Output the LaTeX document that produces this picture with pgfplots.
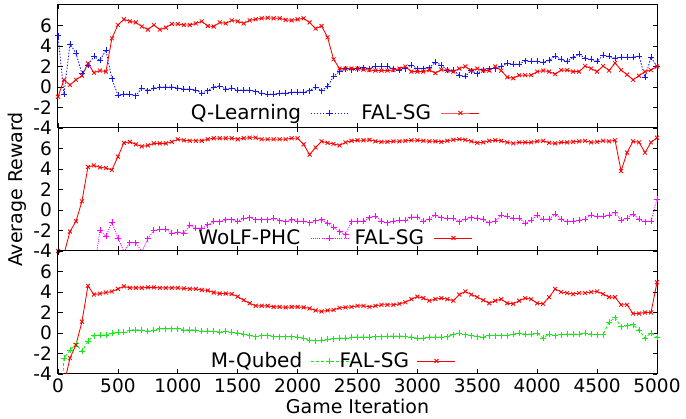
\documentclass[border=0pt]{standalone}
\usepackage{pgfplots}
\usepackage{pgfplotstable}
\pgfplotsset{compat=1.18}
\usepackage{fontspec}
\setmainfont{DejaVu Sans}
\definecolor{qblue}{RGB}{20,20,255}
\definecolor{wmag}{RGB}{255,0,255}
\definecolor{mgreen}{RGB}{20,235,20}
\definecolor{fred}{RGB}{255,0,0}

\pgfplotstableread{
x ql fal
0 5.0 -0.95
50 -0.7 0.7
100 4.2 0.2
150 3.3 0.7
200 1.3 1.1
250 2.1 2.3
300 3.0 1.4
350 2.6 1.6
400 3.6 1.5
450 0.8 4.75
500 -0.8 6.05
550 -0.7 6.6
600 -0.7 6.4
650 -0.85 6.3
700 -0.1 5.9
750 -0.35 5.6
800 -0.1 6.05
850 0 5.6
900 0 5.8
950 0 6.15
1000 -0.1 6.15
1050 -0.2 6.05
1100 -0.2 6.05
1150 -0.3 6.2
1200 -0.6 6.4
1250 -0.35 5.95
1300 0 5.9
1350 0.1 6.3
1400 -0.2 6.2
1450 -0.1 6.5
1500 -0.3 6.4
1550 -0.3 6.2
1600 -0.3 6.5
1650 -0.45 6.6
1700 -0.6 6.7
1750 -0.7 6.75
1800 -0.7 6.7
1850 -0.6 6.7
1900 -0.6 6.55
1950 -0.5 6.5
2000 -0.5 6.6
2050 -0.5 6.7
2100 -0.35 6.3
2150 0 5.7
2200 -0.35 5.95
2250 0.05 4.85
2300 1.05 2.7
2350 1.5 1.8
2400 1.8 1.8
2450 1.7 1.8
2500 1.8 1.8
2550 1.9 1.7
2600 1.8 1.65
2650 2.0 1.6
2700 2.0 1.6
2750 2.0 1.6
2800 1.8 1.65
2850 1.65 1.8
2900 1.8 2.0
2950 2.15 1.5
3000 1.8 1.5
3050 1.8 1.5
3100 1.9 1.65
3150 2.4 1.35
3200 2.15 1.7
3250 1.65 1.6
3300 1.65 1.5
3350 1.15 1.8
3400 1.05 2.0
3450 1.6 1.6
3500 1.3 1.8
3550 1.7 1.6
3600 1.8 1.6
3650 1.8 2.0
3700 2.0 1.6
3750 2.3 0.95
3800 2.25 0.85
3850 2.25 1.15
3900 2.55 1.15
3950 2.5 1.15
4000 2.5 1.5
4050 2.4 1.6
4100 2.6 1.5
4150 3.0 1.25
4200 2.7 1.65
4250 2.5 1.65
4300 2.9 1.5
4350 3.2 1.5
4400 2.8 2.05
4450 2.7 1.8
4500 2.5 1.5
4550 3.1 2.05
4600 3.0 1.6
4650 2.8 2.35
4700 2.9 1.65
4750 2.9 1.2
4800 2.9 0.7
4850 3.0 1.1
4900 0.95 1.5
4950 2.9 1.65
5000 2.0 2.0
}\panelA

\pgfplotstableread{
x wolf fal
0 -6 -4.0
50 -6 -4.3
100 -6 -2.1
150 -6 -1.1
200 -6 0.85
250 -6 4.2
300 -6 4.35
350 -2.0 4.15
400 -2.55 4.1
450 -1.2 3.9
500 -2.75 5.2
550 -4.05 6.55
600 -3.2 6.65
650 -3.2 6.4
700 -4.05 6.2
750 -2.8 6.3
800 -2.0 6.5
850 -1.9 6.5
900 -1.9 6.5
950 -2.25 6.65
1000 -2.15 6.9
1050 -2.25 6.8
1100 -1.5 6.75
1150 -1.75 6.75
1200 -1.8 6.75
1250 -1.45 6.9
1300 -1.1 7.0
1350 -1.15 7.0
1400 -0.95 7.0
1450 -0.95 7.0
1500 -1.1 6.9
1550 -0.8 7.0
1600 -0.75 7.05
1650 -0.95 7.05
1700 -0.95 6.9
1750 -0.95 6.9
1800 -0.8 6.9
1850 -1.05 6.9
1900 -1.15 6.9
1950 -0.95 7.0
2000 -1.1 7.0
2050 -1.1 6.4
2100 -1.25 5.4
2150 -1.05 6.1
2200 -0.95 6.7
2250 -1.3 6.55
2300 -1.7 6.45
2350 -2.1 6.3
2400 -2.4 6.6
2450 -1.15 6.75
2500 -1.1 6.8
2550 -1.1 6.8
2600 -0.75 6.85
2650 -0.6 6.7
2700 -1.1 6.65
2750 -1.25 6.65
2800 -1.1 6.7
2850 -1.0 6.7
2900 -1.0 6.75
2950 -0.7 6.8
3000 -0.7 6.8
3050 -1.1 6.75
3100 -0.9 6.7
3150 -0.5 6.7
3200 -0.75 6.65
3250 -0.8 6.75
3300 -0.8 6.85
3350 -1.15 6.9
3400 -0.9 6.85
3450 -0.75 6.7
3500 -0.8 6.55
3550 -0.9 6.6
3600 -1.25 6.75
3650 -1.1 6.8
3700 -0.5 6.75
3750 -0.6 6.6
3800 -0.8 6.5
3850 -0.8 6.6
3900 -1.3 6.6
3950 -1.0 6.6
4000 -0.5 6.7
4050 -0.9 6.75
4100 -0.9 6.55
4150 -0.4 6.5
4200 -0.9 6.6
4250 -1.15 6.6
4300 -1.1 6.65
4350 -1.0 6.7
4400 -0.9 6.75
4450 -0.5 6.6
4500 -0.6 6.65
4550 -0.6 6.75
4600 -0.5 6.7
4650 -0.25 6.8
4700 -1.0 3.8
4750 -0.8 5.6
4800 -0.4 6.7
4850 -0.9 6.6
4900 -1.15 5.6
4950 -1.1 6.6
5000 1.05 7.05
}\panelB

\pgfplotstableread{
x mq fal
0 -12 -7
50 -2.45 -5
100 -1.7 -2.45
150 -1.05 -1.15
200 -1.8 1.1
250 -0.8 4.6
300 -0.25 3.75
350 -0.2 3.85
400 -0.2 3.95
450 0 4.05
500 0.05 4.3
550 0.05 4.55
600 0.3 4.4
650 0.3 4.4
700 0.3 4.4
750 0.2 4.45
800 0.3 4.45
850 0.4 4.4
900 0.4 4.4
950 0.4 4.4
1000 0.4 4.4
1050 0.3 4.35
1100 0.3 4.3
1150 0.3 4.3
1200 0.2 4.2
1250 0.2 4.15
1300 0.15 3.95
1350 0.1 3.85
1400 0.15 3.85
1450 0.05 3.8
1500 0 3.55
1550 -0.1 3.2
1600 -0.25 2.9
1650 -0.35 2.65
1700 -0.25 2.65
1750 -0.25 2.65
1800 -0.35 2.55
1850 -0.35 2.55
1900 -0.35 2.5
1950 -0.35 2.55
2000 -0.4 2.55
2050 -0.5 2.5
2100 -0.7 2.4
2150 -0.75 2.2
2200 -0.7 2.1
2250 -0.6 2.2
2300 -0.55 2.25
2350 -0.5 2.45
2400 -0.5 2.5
2450 -0.4 2.55
2500 -0.4 2.65
2550 -0.4 2.65
2600 -0.4 2.55
2650 -0.35 2.65
2700 -0.35 2.75
2750 -0.3 2.75
2800 -0.3 2.75
2850 -0.3 2.85
2900 -0.3 3.0
2950 -0.4 3.3
3000 -0.5 3.55
3050 -0.5 3.4
3100 -0.4 3.15
3150 -0.4 3.3
3200 -0.4 3.4
3250 -0.35 3.3
3300 -0.15 3.15
3350 0 3.75
3400 -0.15 4.05
3450 -0.25 3.75
3500 -0.35 3.5
3550 -0.4 3.2
3600 -0.25 2.9
3650 -0.25 3.15
3700 -0.25 3.3
3750 -0.25 2.9
3800 -0.1 2.85
3850 0 3.15
3900 -0.1 3.4
3950 -0.1 3.3
4000 0 2.9
4050 -0.5 2.85
4100 -0.1 3.5
4150 -0.25 4.3
4200 -0.15 4.0
4250 -0.1 3.9
4300 -0.1 3.8
4350 -0.1 3.9
4400 0 3.9
4450 -0.1 4.0
4500 -0.15 4.05
4550 -0.15 3.8
4600 1.05 3.5
4650 1.5 3.5
4700 0.6 2.75
4750 0.7 2.75
4800 0.8 1.9
4850 0.3 1.9
4900 -0.5 2.0
4950 0 2.0
5000 -0.4 4.95
}\panelC

\pgfplotsset{
  panel/.style={
    scale only axis, width=599bp, height=123bp,
    xmin=0, xmax=5000, ymin=-4, ymax=8,
    xtick={0,500,...,5000}, ytick={-4,-2,0,2,4,6},
    yticklabels={-4,-2,0,2,4,6},
    tick align=inside, major tick length=4.5bp,
    tick style={black, line width=0.8bp},
    axis line style={line width=1bp},
    tick label style={font=\fontsize{18.5bp}{20bp}\selectfont, inner sep=0pt},
    yticklabel style={xshift=-6bp},
    xticklabel style={yshift=-5bp},
    legend style={draw=none, fill=none, inner sep=0pt, column sep=0pt,
      nodes={inner sep=0pt}, font=\fontsize{20bp}{22bp}\selectfont, anchor=west},
    legend columns=2,
    legend plot pos=right,
    legend image code/.code={\draw[mark repeat=2,mark phase=2] plot coordinates {(0bp,0bp)(19bp,0bp)(38bp,0bp)};},
  },
  falsg/.style={color=fred, solid, line width=0.85bp, mark=x, mark size=2.8bp, mark options={solid, line width=0.8bp, draw=fred}},
  qls/.style={color=qblue, line width=0.85bp, dash pattern=on 1.5bp off 1.5bp, mark=+, mark size=3bp, mark options={solid, line width=0.8bp, draw=qblue}},
  wos/.style={color=wmag, line width=0.85bp, dash pattern=on 1bp off 1.2bp, mark=+, mark size=3bp, mark options={solid, line width=0.8bp, draw=wmag}},
  mqs/.style={color=mgreen, line width=0.85bp, dash pattern=on 3bp off 2bp, mark=+, mark size=3bp, mark options={solid, line width=0.8bp, draw=mgreen}},
}

\begin{document}
\begin{tikzpicture}
\useasboundingbox (0,0) rectangle (686bp,419bp);

% top panel
\begin{axis}[panel, at={(58bp,291bp)}, anchor=south west, xticklabels={},
  legend style={at={(axis description cs:0.227,0.122)}}]
\addplot[qls] table[x=x,y=ql] {\panelA};
\addlegendentry{\makebox[116bp][r]{Q-Learning\hspace{9bp}}}
\addplot[falsg] table[x=x,y=fal] {\panelA};
\addlegendentry{\makebox[92bp][r]{FAL-SG\hspace{10bp}}}
\end{axis}

% middle panel
\begin{axis}[panel, at={(58bp,168bp)}, anchor=south west, xticklabels={},
  ylabel={Average Reward},
  ylabel style={at={(axis description cs:-0.0676,0.5)}, anchor=center, font=\fontsize{19bp}{21bp}\selectfont},
  legend style={at={(axis description cs:0.2254,0.106)}}]
\addplot[wos] table[x=x,y=wolf] {\panelB};
\addlegendentry{\makebox[117bp][r]{WoLF-PHC\hspace{10bp}}}
\addplot[falsg] table[x=x,y=fal] {\panelB};
\addlegendentry{\makebox[85bp][r]{FAL-SG\hspace{10bp}}}
\end{axis}

% bottom panel
\begin{axis}[panel, at={(58bp,45bp)}, anchor=south west,
  xticklabels={0,500,1000,1500,2000,2500,3000,3500,4000,4500,5000},
  xlabel={Game Iteration},
  xlabel style={at={(axis description cs:0.5,-0.325)}, anchor=base, font=\fontsize{19bp}{21bp}\selectfont},
  legend style={at={(axis description cs:0.2588,0.106)}}]
\addplot[mqs] table[x=x,y=mq] {\panelC};
\addlegendentry{\makebox[97bp][r]{M-Qubed\hspace{8bp}}}
\addplot[falsg] table[x=x,y=fal] {\panelC};
\addlegendentry{\makebox[68bp][r]{FAL-SG\hspace{8bp}}}
\end{axis}
\end{tikzpicture}
\end{document}
